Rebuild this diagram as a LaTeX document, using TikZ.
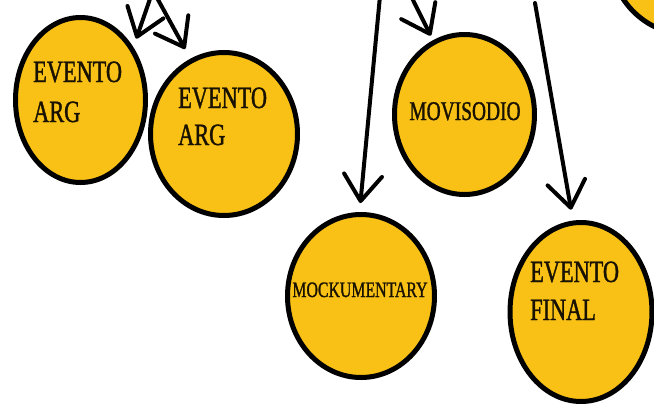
\documentclass[tikz,border=0pt]{standalone}
\usepackage{fontspec}
\newfontfamily\condserif[FakeStretch=0.72,FakeBold=1.2]{Liberation Serif}
\usetikzlibrary{shapes.geometric,arrows.meta}
\definecolor{gold}{RGB}{249,193,22}
\definecolor{ink}{RGB}{26,18,0}
\begin{document}
\begin{tikzpicture}[x=1pt,y=-1pt,
  bubble/.style={ellipse, draw=black, line width=5pt, fill=gold, inner sep=0pt},
  lbl/.style={font=\condserif\fontsize{31}{37}\selectfont, text=ink, inner sep=0pt, anchor=base west},
  arr/.style={line width=4pt, line cap=round, line join=round,
    -{Straight Barb[length=26pt,width=38pt,round]}}]
\useasboundingbox (0,0) rectangle (654,405);
\clip (0,0) rectangle (654,405);
\fill[white] (0,0) rectangle (654,405);

% bubbles
\node[bubble, minimum size=160pt] (c0) at (690,-45) {};
\node[bubble, minimum width=130pt, minimum height=165pt] (c1) at (80.5,100) {};
\node[bubble, minimum width=147pt, minimum height=163pt] (c2) at (224,134) {};
\node[bubble, minimum width=140pt, minimum height=160pt] (c3) at (464.5,114.5) {};
\node[bubble, minimum width=147pt, minimum height=163pt] (c4) at (361,296) {};
\node[bubble, minimum width=142pt, minimum height=179pt] (c5) at (581,312) {};

% labels
\node[lbl] (t1a) at (33,82) {EVENTO};
\node[lbl] (t1b) at (33,122) {ARG};
\node[lbl] (t2a) at (178,108) {EVENTO};
\node[lbl] (t2b) at (178,145) {ARG};
\node[lbl, anchor=base, font=\condserif\fontsize{27}{32}\selectfont] (t3) at (465,120) {MOVISODIO};
\node[lbl, anchor=base, font=\condserif\fontsize{22}{26}\selectfont] (t4) at (360,297) {MOCKUMENTARY};
\node[lbl] (t5a) at (530,282) {EVENTO};
\node[lbl] (t5b) at (530,320) {FINAL};

% arrow starts
\coordinate (s1) at (151,-4);
\coordinate (s2) at (156,-4);
\coordinate (s3) at (380,-4);
\coordinate (s4) at (411,-4);
\coordinate (s5) at (535,3);

\draw[arr, shorten >=9pt] (s1) -- (c1.45);
\draw[arr, shorten >=11pt] (s2) -- (c2.114);
\draw[arr, shorten >=9pt] (s3) -- (c4.91);
\draw[arr, shorten >=5pt] (s4) -- (c3.113);
\draw[arr, shorten >=11pt] (s5) -- (c5.95);
\end{tikzpicture}
\end{document}
